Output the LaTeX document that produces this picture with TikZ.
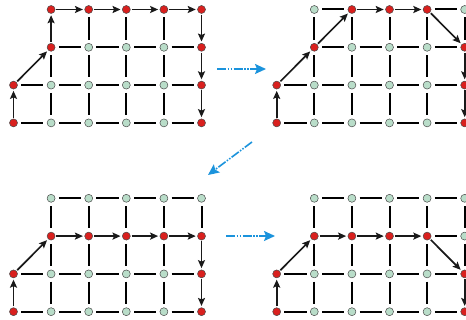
\documentclass[tikz,border=0pt]{standalone}
\usetikzlibrary{arrows.meta}
\definecolor{nodered}{HTML}{D9201E}
\definecolor{nodegreen}{HTML}{B9DDC9}
\definecolor{nodeedge}{HTML}{4A4A4A}
\definecolor{flowblue}{HTML}{1B93DC}
\tikzset{
  gnode/.style={circle,inner sep=0pt,minimum size=8pt,draw=nodeedge,line width=0.5pt},
  nred/.style={gnode,fill=nodered},
  ngreen/.style={gnode,fill=nodegreen},
  gline/.style={line width=2pt,black,shorten <=3.5pt,shorten >=3.5pt},
  parrow/.style={line width=1.7pt,draw=black!90,-{Stealth[length=8pt,width=7pt,inset=1.5pt]},shorten <=1pt,shorten >=1.5pt},
  flow/.style={flowblue,line width=1.6pt,dash pattern=on 9pt off 1.5pt on 1.5pt off 1.5pt on 1.5pt off 1.5pt,-{Stealth[length=11pt,width=10pt,inset=2pt]}},
}
% #1 name, #2 x0, #3 y0, #4 red list
\newcommand\mkgrid[4]{%
  \foreach \c/\r in {#4}{\expandafter\gdef\csname red#1-\c-\r\endcsname{}}
  \foreach \r/\cs in {0/1,1/1,2/0,3/0}{
    \foreach \c in {\cs,...,5}{
      \ifcsname red#1-\c-\r\endcsname\def\fc{nred}\else\def\fc{ngreen}\fi
      \node[\fc] (#1-\c-\r) at ({#2+37.6*\c},{#3+37.8*\r}) {};
    }
  }
}
% horizontal lines: #1 grid, #2 row, #3 start col, #4 end col
\newcommand\hrow[4]{%
  \pgfmathtruncatemacro\hend{#4-1}
  \foreach \c [evaluate=\c as \cn using int(\c+1)] in {#3,...,\hend}{
    \draw[gline] (#1-\c-#2) -- (#1-\cn-#2);
  }
}
% vertical lines: #1 grid, #2 col, #3 start row, #4 end row
\newcommand\vcol[4]{%
  \pgfmathtruncatemacro\vend{#4-1}
  \foreach \r [evaluate=\r as \rn using int(\r+1)] in {#3,...,\vend}{
    \draw[gline] (#1-#2-\r) -- (#1-#2-\rn);
  }
}
\newcommand\patharrows[2]{%
  \foreach \a/\b in {#2}{\draw[parrow] (#1-\a) -- (#1-\b);}
}
\begin{document}
\begin{tikzpicture}[x=1pt,y=-1pt]
\useasboundingbox (0,0) rectangle (466,320);

% grid 1
\mkgrid{ga}{13.5}{9.5}{0/3,0/2,1/1,1/0,2/0,3/0,4/0,5/0,5/1,5/2,5/3}
\hrow{ga}{1}{1}{5}\hrow{ga}{2}{0}{5}\hrow{ga}{3}{0}{5}
\vcol{ga}{1}{1}{3}\vcol{ga}{2}{0}{3}\vcol{ga}{3}{0}{3}\vcol{ga}{4}{0}{3}
\patharrows{ga}{0-3/0-2,0-2/1-1,1-1/1-0,1-0/2-0,2-0/3-0,3-0/4-0,4-0/5-0,5-0/5-1,5-1/5-2,5-2/5-3}

% grid 2
\mkgrid{gb}{276.7}{9.5}{0/3,0/2,1/1,2/0,3/0,4/0,5/1,5/2,5/3}
\hrow{gb}{0}{1}{2}\hrow{gb}{0}{4}{5}\hrow{gb}{1}{1}{5}\hrow{gb}{2}{0}{5}\hrow{gb}{3}{0}{5}
\vcol{gb}{1}{0}{3}\vcol{gb}{2}{0}{3}\vcol{gb}{3}{0}{3}\vcol{gb}{4}{0}{3}\vcol{gb}{5}{0}{1}
\patharrows{gb}{0-3/0-2,0-2/1-1,1-1/2-0,2-0/3-0,3-0/4-0,4-0/5-1,5-1/5-2,5-2/5-3}

% grid 3
\mkgrid{gc}{13.5}{198.3}{0/3,0/2,1/1,2/1,3/1,4/1,5/1,5/2,5/3}
\hrow{gc}{0}{1}{5}\hrow{gc}{2}{0}{5}\hrow{gc}{3}{0}{5}
\vcol{gc}{1}{0}{3}\vcol{gc}{2}{0}{3}\vcol{gc}{3}{0}{3}\vcol{gc}{4}{0}{3}\vcol{gc}{5}{0}{1}
\patharrows{gc}{0-3/0-2,0-2/1-1,1-1/2-1,2-1/3-1,3-1/4-1,4-1/5-1,5-1/5-2,5-2/5-3}

% grid 4
\mkgrid{gd}{276.7}{198.3}{0/3,0/2,1/1,2/1,3/1,4/1,5/2,5/3}
\hrow{gd}{0}{1}{5}\hrow{gd}{1}{4}{5}\hrow{gd}{2}{0}{5}\hrow{gd}{3}{0}{5}
\vcol{gd}{1}{0}{3}\vcol{gd}{2}{0}{3}\vcol{gd}{3}{0}{3}\vcol{gd}{4}{0}{3}\vcol{gd}{5}{0}{2}
\patharrows{gd}{0-3/0-2,0-2/1-1,1-1/2-1,2-1/3-1,3-1/4-1,4-1/5-2,5-2/5-3}

% flow arrows
\coordinate (f1s) at (217,69);  \coordinate (f1e) at (266,69);
\coordinate (f2s) at (252,142); \coordinate (f2e) at (208,175);
\coordinate (f3s) at (226,236); \coordinate (f3e) at (275,236);
\draw[flow] (f1s) -- (f1e);
\draw[flow] (f2s) -- (f2e);
\draw[flow] (f3s) -- (f3e);
\end{tikzpicture}
\end{document}
